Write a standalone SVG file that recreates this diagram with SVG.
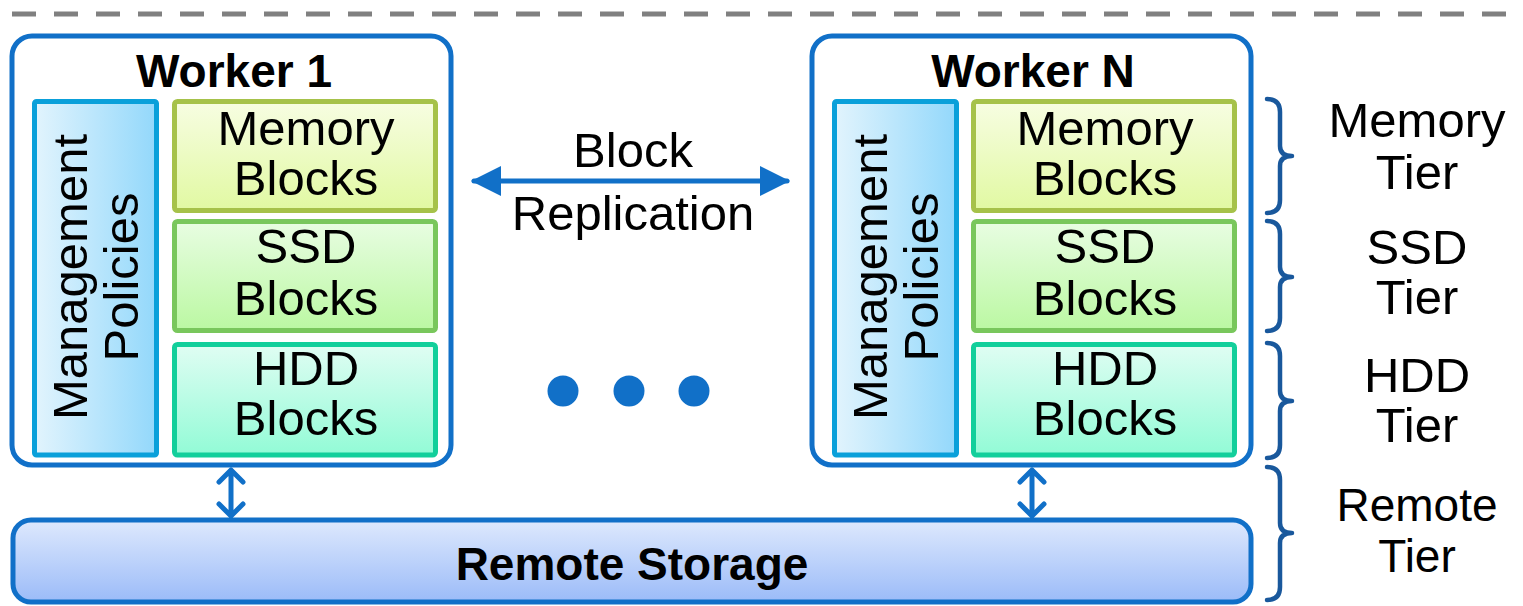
<svg xmlns="http://www.w3.org/2000/svg" width="1523" height="606" viewBox="0 0 1523 606">
  <defs>
    <linearGradient id="gMgmt" x1="0" y1="0" x2="1" y2="0">
      <stop offset="0" stop-color="#e2f4fd"/>
      <stop offset="1" stop-color="#93d8fb"/>
    </linearGradient>
    <linearGradient id="gMem" x1="0" y1="0" x2="0" y2="1">
      <stop offset="0" stop-color="#f7fde2"/>
      <stop offset="1" stop-color="#e1f9a2"/>
    </linearGradient>
    <linearGradient id="gSsd" x1="0" y1="0" x2="0" y2="1">
      <stop offset="0" stop-color="#e8fde2"/>
      <stop offset="1" stop-color="#bbf8a2"/>
    </linearGradient>
    <linearGradient id="gHdd" x1="0" y1="0" x2="0" y2="1">
      <stop offset="0" stop-color="#e0fdf3"/>
      <stop offset="1" stop-color="#92fbd6"/>
    </linearGradient>
    <linearGradient id="gRemote" x1="0" y1="0" x2="0" y2="1">
      <stop offset="0" stop-color="#dee9fd"/>
      <stop offset="1" stop-color="#9bbbf8"/>
    </linearGradient>
    <marker id="tri" viewBox="0 0 10 10" refX="9" refY="5" markerUnits="userSpaceOnUse" markerWidth="30" markerHeight="30" orient="auto-start-reverse">
      <path d="M0,0 L10,5 L0,10 Z" fill="#1170c8"/>
    </marker>
  </defs>
  <style>
    text { font-family: "Liberation Sans", Arial, sans-serif; fill: #000; }
    .title { font-size: 46px; font-weight: bold; text-anchor: middle; }
    .lbl { font-size: 49px; text-anchor: middle; }
    .sm { font-size: 46px; }
    .worker { fill: #fff; stroke: #1170c8; stroke-width: 5; }
    .mgmt { fill: url(#gMgmt); stroke: #0aa0da; stroke-width: 5; }
    .mem { fill: url(#gMem); stroke: #a6c24a; stroke-width: 5; }
    .ssd { fill: url(#gSsd); stroke: #79c75c; stroke-width: 5; }
    .hdd { fill: url(#gHdd); stroke: #12cf9b; stroke-width: 5; }
    .remote { fill: url(#gRemote); stroke: #1170c8; stroke-width: 5; }
    .link { stroke: #1170c8; stroke-width: 5; fill: none; stroke-linecap: round; stroke-linejoin: round; }
    .brace { stroke: #19589c; stroke-width: 4.5; fill: none; stroke-linecap: round; stroke-linejoin: round; }
  </style>

  <!-- boundary line across the top -->
  <line x1="12" y1="14" x2="1523" y2="14" stroke="#808080" stroke-width="5" stroke-dasharray="24 18"/>

  <!-- worker 1 -->
  <g id="worker1">
    <rect class="worker" x="12" y="36" width="439" height="429" rx="20"/>
    <text class="title" x="234" y="87">Worker 1</text>
    <rect class="mgmt" x="34.5" y="101.5" width="122" height="353.5" rx="2"/>
    <text class="lbl" transform="translate(87,277) rotate(-90)">Management</text>
    <text class="lbl" transform="translate(138,277) rotate(-90)">Policies</text>
    <rect class="mem" x="174.5" y="101.5" width="261" height="109" rx="3"/>
    <text class="lbl" x="306" y="145">Memory</text>
    <text class="lbl" x="306" y="195">Blocks</text>
    <rect class="ssd" x="174.5" y="221.5" width="261" height="109" rx="3"/>
    <text class="lbl" x="306" y="263">SSD</text>
    <text class="lbl" x="306" y="315">Blocks</text>
    <rect class="hdd" x="174.5" y="344.5" width="261" height="110.5" rx="3"/>
    <text class="lbl" x="306" y="385">HDD</text>
    <text class="lbl" x="306" y="435">Blocks</text>
  </g>

  <!-- worker N -->
  <g id="workerN">
    <rect class="worker" x="812" y="36" width="439" height="429" rx="20"/>
    <text class="title" x="1033" y="87">Worker N</text>
    <rect class="mgmt" x="834.5" y="101.5" width="122" height="353.5" rx="2"/>
    <text class="lbl" transform="translate(887,277) rotate(-90)">Management</text>
    <text class="lbl" transform="translate(938,277) rotate(-90)">Policies</text>
    <rect class="mem" x="973.5" y="101.5" width="261" height="109" rx="3"/>
    <text class="lbl" x="1105" y="145">Memory</text>
    <text class="lbl" x="1105" y="195">Blocks</text>
    <rect class="ssd" x="973.5" y="221.5" width="261" height="109" rx="3"/>
    <text class="lbl" x="1105" y="263">SSD</text>
    <text class="lbl" x="1105" y="315">Blocks</text>
    <rect class="hdd" x="973.5" y="344.5" width="261" height="110.5" rx="3"/>
    <text class="lbl" x="1105" y="385">HDD</text>
    <text class="lbl" x="1105" y="435">Blocks</text>
  </g>

  <!-- shared remote store -->
  <g id="remote">
    <rect class="remote" x="13" y="520" width="1238" height="82" rx="18"/>
    <text class="title" x="632" y="580">Remote Storage</text>
  </g>

  <!-- ellipsis between workers -->
  <g id="ellipsis" fill="#1170c8">
    <circle cx="563" cy="391" r="15.5"/>
    <circle cx="629" cy="391" r="15.5"/>
    <circle cx="694" cy="391" r="15.5"/>
  </g>

  <!-- tier braces and labels -->
  <g id="tiers">
    <path class="brace" d="M1267,99 Q1280,99 1280,112 L1280,146 Q1280,156 1292,156 Q1280,156 1280,166 L1280,200 Q1280,213 1267,213"/>
    <text class="lbl" x="1417" y="137">Memory</text>
    <text class="lbl" x="1417" y="189">Tier</text>
    <path class="brace" d="M1267,221 Q1280,221 1280,234 L1280,267 Q1280,277 1292,277 Q1280,277 1280,287 L1280,318 Q1280,331 1267,331"/>
    <text class="lbl" x="1417" y="264">SSD</text>
    <text class="lbl" x="1417" y="314">Tier</text>
    <path class="brace" d="M1267,343 Q1280,343 1280,356 L1280,391 Q1280,401 1292,401 Q1280,401 1280,411 L1280,445 Q1280,458 1267,458"/>
    <text class="lbl" x="1417" y="392">HDD</text>
    <text class="lbl" x="1417" y="442">Tier</text>
    <path class="brace" d="M1267,467 Q1280,467 1280,480 L1280,523 Q1280,533 1292,533 Q1280,533 1280,543 L1280,587 Q1280,600 1267,600"/>
    <text class="lbl sm" x="1417" y="521">Remote</text>
    <text class="lbl sm" x="1417" y="572">Tier</text>
  </g>

  <!-- connectors -->
  <g id="connectors">
    <line class="link" x1="474" y1="181" x2="787" y2="181" stroke-linecap="butt" marker-start="url(#tri)" marker-end="url(#tri)"/>
    <text class="lbl" x="633" y="167">Block</text>
    <text class="lbl" x="633" y="230">Replication</text>
    <path class="link" d="M231,470 L231,516 M219,482 L231,470 L243,482 M219,504 L231,516 L243,504"/>
    <path class="link" d="M1032,470 L1032,516 M1020,482 L1032,470 L1044,482 M1020,504 L1032,516 L1044,504"/>
  </g>
</svg>
